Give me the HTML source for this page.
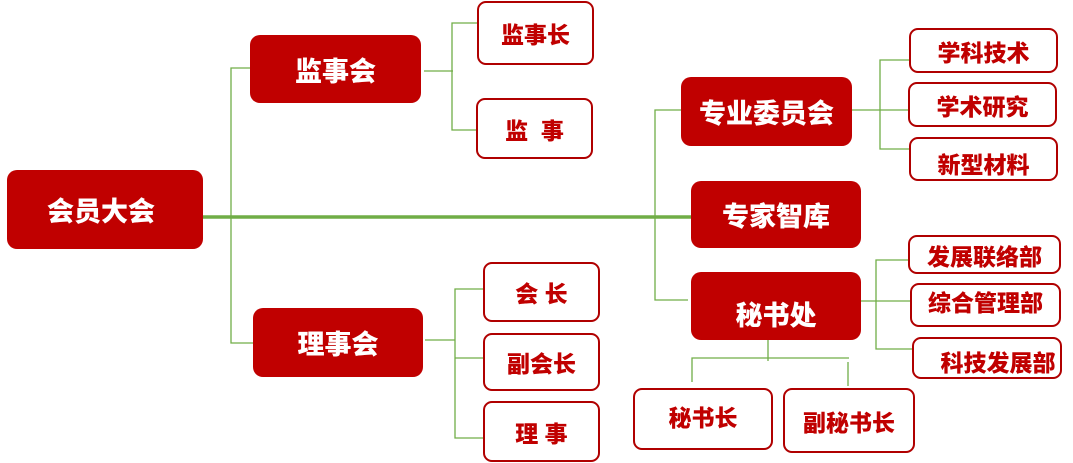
<!DOCTYPE html>
<html><head><meta charset="utf-8"><style>
body{margin:0;width:1073px;height:463px;background:#fff;position:relative;overflow:hidden;font-family:"Liberation Sans","Noto Sans CJK SC",sans-serif;font-weight:900}
.b{position:absolute;box-sizing:border-box;display:flex;align-items:center;justify-content:center;white-space:pre}
.f{background:#c00000;color:#fff;border-radius:10px;font-size:27px}
.o{background:#fff;color:#c00000;border:2px solid #b00000;border-radius:9px;font-size:23px}
svg{position:absolute;left:0;top:0}
</style></head><body>
<svg width="1073" height="463" stroke="#70ad47" stroke-width="1.3" fill="none">
<line x1="203" y1="217" x2="691" y2="217" stroke-width="3.5"/>
<polyline points="250,68 231,68 231,343 253,343"/>
<line x1="424" y1="71" x2="453" y2="71"/>
<polyline points="477,23 452,23 452,130 477,130"/>
<line x1="425" y1="340" x2="455" y2="340"/>
<polyline points="483,289 455,289 455,438 483,438"/>
<line x1="455" y1="358" x2="483" y2="358"/>
<polyline points="681,110 655,110 655,300 688,300"/>
<line x1="852" y1="110" x2="909" y2="110"/>
<polyline points="909,60 880,60 880,149 909,149"/>
<line x1="861" y1="301" x2="910" y2="301"/>
<polyline points="908,260 876,260 876,349 912,349"/>
<line x1="768" y1="340" x2="768" y2="361"/>
<polyline points="692,382 692,358 849,358"/>
<line x1="848" y1="362" x2="848" y2="386"/>
</svg>
<div class="b f" style="left:7px;top:170px;width:196px;height:79px;padding-right:8px">会员大会</div>
<div class="b f" style="left:250px;top:35px;width:171px;height:68px">监事会</div>
<div class="b f" style="left:253px;top:308px;width:170px;height:69px">理事会</div>
<div class="b f" style="left:681px;top:77px;width:171px;height:69px">专业委员会</div>
<div class="b f" style="left:691px;top:181px;width:170px;height:67px">专家智库</div>
<div class="b f" style="left:691px;top:272px;width:170px;height:68px;padding-top:14px">秘书处</div>
<div class="b o" style="left:477px;top:1px;width:117px;height:64px">监事长</div>
<div class="b o" style="left:476px;top:98px;width:117px;height:61px">监  事</div>
<div class="b o" style="left:483px;top:262px;width:117px;height:60px">会 长</div>
<div class="b o" style="left:483px;top:333px;width:117px;height:58px">副会长</div>
<div class="b o" style="left:483px;top:401px;width:117px;height:61px">理 事</div>
<div class="b o" style="left:909px;top:28px;width:149px;height:45px">学科技术</div>
<div class="b o" style="left:908px;top:82px;width:149px;height:45px">学术研究</div>
<div class="b o" style="left:909px;top:137px;width:149px;height:44px;padding-top:8px">新型材料</div>
<div class="b o" style="left:908px;top:235px;width:153px;height:39px">发展联络部</div>
<div class="b o" style="left:910px;top:283px;width:151px;height:44px;padding-bottom:8px">综合管理部</div>
<div class="b o" style="left:912px;top:337px;width:150px;height:42px;padding-left:22px;padding-top:6px">科技发展部</div>
<div class="b o" style="left:633px;top:388px;width:140px;height:62px;padding-bottom:6px">秘书长</div>
<div class="b o" style="left:783px;top:388px;width:132px;height:65px">副秘书长</div>
</body></html>
